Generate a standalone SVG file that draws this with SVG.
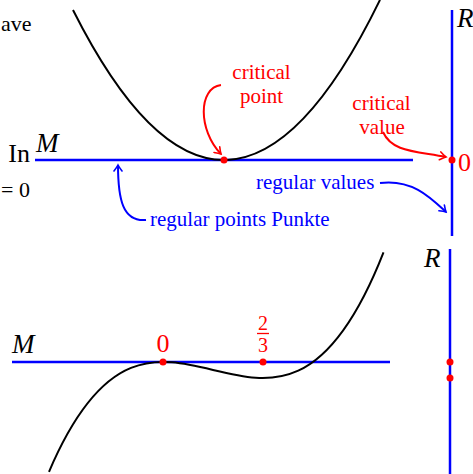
<svg xmlns="http://www.w3.org/2000/svg" width="473" height="474" viewBox="0 0 473 474">
<style>
.t{font-family:"Liberation Serif","Times New Roman",serif}
.m{font-family:"Liberation Serif","Times New Roman",serif;font-style:italic;font-size:27px;fill:#000}
.red{fill:#ff0000}
.blue{fill:#0000ff}
.axis{stroke:#0000ff;stroke-width:2.5;fill:none}
.curve{stroke:#000;stroke-width:2;fill:none}
.ra{stroke:#ff0000;stroke-width:2;fill:none}
.ba{stroke:#0000ff;stroke-width:2;fill:none}
.edge{font-family:"Liberation Serif","Times New Roman",serif;font-size:22px;fill:#000}
</style>
<defs>
<marker id="ahr" viewBox="-8 -5 10 10" refX="0" refY="0" markerWidth="10" markerHeight="10" markerUnits="userSpaceOnUse" orient="auto">
<path d="M-6,-4 Q-2,-1 0,0 Q-2,1 -6,4" fill="none" stroke="#ff0000" stroke-width="1.6" stroke-linecap="round"/>
</marker>
<marker id="ahb" viewBox="-8 -5 10 10" refX="0" refY="0" markerWidth="10" markerHeight="10" markerUnits="userSpaceOnUse" orient="auto">
<path d="M-6,-4 Q-2,-1 0,0 Q-2,1 -6,4" fill="none" stroke="#0000ff" stroke-width="1.6" stroke-linecap="round"/>
</marker>
</defs>

<g id="left-texts">
<text class="edge" x="1" y="31">ave</text>
<text class="t" x="30" y="162" font-size="26" text-anchor="end">In</text>
<text class="edge" x="1" y="197">= 0</text>
</g>

<g id="top-M-axis">
<line class="axis" x1="35" y1="160" x2="413" y2="160"/>
<text class="m" x="36" y="152">M</text>
</g>
<g id="top-R-axis">
<line class="axis" x1="452" y1="10" x2="452" y2="236"/>
<text class="m" x="457" y="27">R</text>
</g>
<g id="parabola">
<path class="curve" d="M73,10 Q226.5,315 380,-0.1"/>
</g>
<g id="critical-point-dot"><circle cx="224" cy="160" r="3.5" fill="#ff0000"/></g>
<g id="critical-value-dot"><circle cx="452" cy="160" r="3.5" fill="#ff0000"/>
<text class="t red" x="458" y="171" font-size="26">0</text></g>

<g id="labels">
<text class="t red" x="261.5" y="79" font-size="21" text-anchor="middle">critical</text>
<text class="t red" x="261.5" y="103" font-size="21" text-anchor="middle">point</text>
<text class="t red" x="381.5" y="110" font-size="21" text-anchor="middle">critical</text>
<text class="t red" x="382" y="134" font-size="21" text-anchor="middle">value</text>
<text class="t blue" x="256" y="189" font-size="21">regular values</text>
<text class="t blue" x="150" y="226" font-size="21">regular points Punkte</text>
</g>

<g id="connectors">
<path class="ra" d="M221,85 C198,88 198,130 221,154" marker-end="url(#ahr)"/>
<path class="ra" d="M383,132 C392,152 415,151 446,157" marker-end="url(#ahr)"/>
<path class="ba" d="M380,183 C412,179 430,197 446,212" marker-end="url(#ahb)"/>
<path class="ba" d="M146,220 C123,222 118,200 118,165" marker-end="url(#ahb)"/>
</g>

<g id="bottom-M-axis">
<line class="axis" x1="12" y1="362" x2="390" y2="362"/>
<text class="m" x="12" y="353">M</text>
</g>
<g id="bottom-R-axis">
<line class="axis" x1="450" y1="249" x2="450" y2="474"/>
<text class="m" x="424" y="267">R</text>
</g>
<g id="cubic">
<path class="curve" d="M49,471.8 C160.5,210.6 272,536.7 383.5,252.3"/>
</g>
<g id="bottom-points">
<circle cx="163" cy="362" r="3.5" fill="#ff0000"/>
<circle cx="263" cy="362" r="3.5" fill="#ff0000"/>
<circle cx="450" cy="362" r="3.5" fill="#ff0000"/>
<circle cx="450" cy="378" r="3.5" fill="#ff0000"/>
<text class="t red" x="163" y="352" font-size="26" text-anchor="middle">0</text>
<text class="t red" x="263" y="330" font-size="20" text-anchor="middle">2</text>
<line x1="257" y1="333.5" x2="269" y2="333.5" stroke="#ff0000" stroke-width="1.3"/>
<text class="t red" x="263" y="352" font-size="20" text-anchor="middle">3</text>
</g>
</svg>
